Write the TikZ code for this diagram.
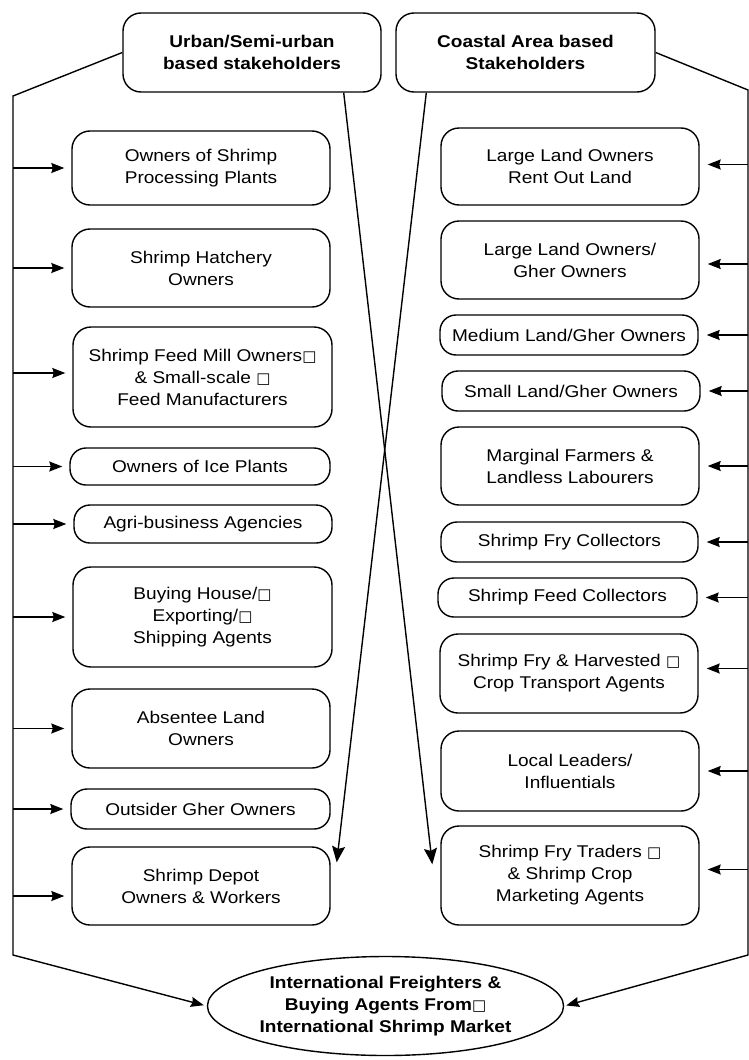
\documentclass[tikz,border=0pt]{standalone}
\usepackage{fontspec}
\setmainfont{Liberation Sans}[FakeStretch=1.12]
\newfontfamily\sqfont{DejaVu Sans}
\usetikzlibrary{arrows.meta,shapes.geometric}
\newcommand{\sq}{{\sqfont\fontsize{15}{15}\selectfont □}}
\begin{document}
\begin{tikzpicture}[x=1pt,y=-1pt,
  ln/.style={line width=1.4pt},
  box/.style={draw,ln,rounded corners=18pt,align=center,inner sep=0pt,
    font=\fontsize{17}{22}\selectfont},
  sbox/.style={box,rounded corners=16pt},
  hbox/.style={box,font=\bfseries\fontsize{17}{22}\selectfont},
  arr/.style={ln,-{Stealth[length=13pt,width=10pt,inset=1.5pt]}},
  larr/.style={arr,shorten >=7pt},
  rarr/.style={arr,shorten >=8pt},
  bigarr/.style={ln,-{Stealth[length=16pt,width=13pt,inset=2.5pt]}}]
\useasboundingbox (0,0) rectangle (749,1060);

% headers
\node[hbox,minimum width=258pt,minimum height=79pt] (H1) at (252,52.5) {Urban/Semi-urban\\based stakeholders};
\node[hbox,minimum width=259pt,minimum height=79pt] (H2) at (525.5,52.5) {Coastal Area based\\Stakeholders};

% left boxes
\node[box,minimum width=258pt,minimum height=74pt] (L1) at (201,168) {Owners of Shrimp\\Processing Plants};
\node[box,minimum width=258pt,minimum height=78pt] (L2) at (201,268) {Shrimp Hatchery\\Owners};
\node[box,minimum width=259pt,minimum height=100pt] (L3) at (202.5,377) {Shrimp Feed Mill Owners\sq\\\& Small-scale \sq\\Feed Manufacturers};
\node[sbox,minimum width=260pt,minimum height=37pt] (L4) at (200,466.5) {Owners of Ice Plants};
\node[sbox,minimum width=258pt,minimum height=38pt] (L5) at (203,524) {Agri-business Agencies};
\node[box,minimum width=259pt,minimum height=100pt] (L6) at (202.5,617) {Buying House/\sq\\Exporting/\sq\\Shipping Agents};
\node[box,minimum width=258pt,minimum height=79pt] (L7) at (201,728.5) {Absentee Land\\Owners};
\node[sbox,minimum width=259pt,minimum height=40pt] (L8) at (200.5,809) {Outsider Gher Owners};
\node[box,minimum width=258pt,minimum height=78pt] (L9) at (201,886) {Shrimp Depot\\Owners \& Workers};

% right boxes
\node[box,minimum width=258pt,minimum height=77pt] (R1) at (570,166.5) {Large Land Owners\\Rent Out Land};
\node[box,minimum width=258pt,minimum height=78pt] (R2) at (570,260) {Large Land Owners/\\Gher Owners};
\node[sbox,minimum width=258pt,minimum height=40pt] (R3) at (569,335) {Medium Land/Gher Owners};
\node[sbox,minimum width=258pt,minimum height=40pt] (R4) at (571,391) {Small Land/Gher Owners};
\node[box,minimum width=258pt,minimum height=78pt] (R5) at (570,466) {Marginal Farmers \&\\Landless Labourers};
\node[sbox,minimum width=257pt,minimum height=40pt] (R6) at (569.5,542) {Shrimp Fry Collectors};
\node[sbox,minimum width=259pt,minimum height=39pt] (R7) at (567.5,597.5) {Shrimp Feed Collectors};
\node[box,minimum width=258pt,minimum height=79pt] (R8) at (569,673.5) {Shrimp Fry \& Harvested \sq\\Crop Transport Agents};
\node[box,minimum width=258pt,minimum height=80pt] (R9) at (570,771) {Local Leaders/\\Influentials};
\node[box,minimum width=258pt,minimum height=99pt] (R10) at (570,875.5) {Shrimp Fry Traders \sq\\\& Shrimp Crop\\Marketing Agents};

% bottom ellipse
\node[ellipse,draw,ln,minimum width=351pt,minimum height=99pt,inner sep=0pt,align=center,
  font=\bfseries\fontsize{17}{22}\selectfont] (E) at (385.5,1006)
  {International Freighters \&\\Buying Agents From\sq\\International Shrimp Market};

% frame coordinates
\coordinate (tlT) at (13,96);
\coordinate (tlB) at (13,955);
\coordinate (trT) at (748,90);
\coordinate (trB) at (748,955);

\draw[arr,shorten >=3pt] (H1.west) -- (tlT) -- (tlB) -- (E.west);
\draw[arr,shorten >=2pt] (H2.east) -- (trT) -- (trB) -- (E.east);

% left branches
\draw[larr] (L1.west -| tlT) -- (L1.west);
\draw[larr] (L2.west -| tlT) -- (L2.west);
\draw[larr] ([yshift=4pt]L3.west -| tlT) -- ([yshift=4pt]L3.west);
\draw[larr] (L4.west -| tlT) -- (L4.west);
\draw[larr] (L5.west -| tlT) -- (L5.west);
\draw[larr] (L6.west -| tlT) -- (L6.west);
\draw[larr] (L7.west -| tlT) -- (L7.west);
\draw[larr] (L8.west -| tlT) -- (L8.west);
\draw[larr] ([yshift=-10pt]L9.west -| tlT) -- ([yshift=-10pt]L9.west);

% right branches
\draw[rarr] ([yshift=2pt]R1.east -| trT) -- ([yshift=2pt]R1.east);
\draw[rarr] ([yshift=-4pt]R2.east -| trT) -- ([yshift=-4pt]R2.east);
\draw[rarr] (R3.east -| trT) -- (R3.east);
\draw[rarr] (R4.east -| trT) -- (R4.east);
\draw[rarr] (R5.east -| trT) -- (R5.east);
\draw[rarr] (R6.east -| trT) -- (R6.east);
\draw[rarr] (R7.east -| trT) -- (R7.east);
\draw[rarr] ([yshift=5pt]R8.east -| trT) -- ([yshift=5pt]R8.east);
\draw[rarr] (R9.east -| trT) -- (R9.east);
\draw[rarr] ([yshift=6pt]R10.east -| trT) -- ([yshift=6pt]R10.east);

% crossing connectors
\draw[bigarr] ([xshift=-38pt]H1.south east) -- ([xshift=-8pt,yshift=-39pt]R10.north west);
\draw[bigarr] ([xshift=31pt]H2.south west) -- ([xshift=6pt,yshift=-16pt]L9.north east);
\end{tikzpicture}
\end{document}
